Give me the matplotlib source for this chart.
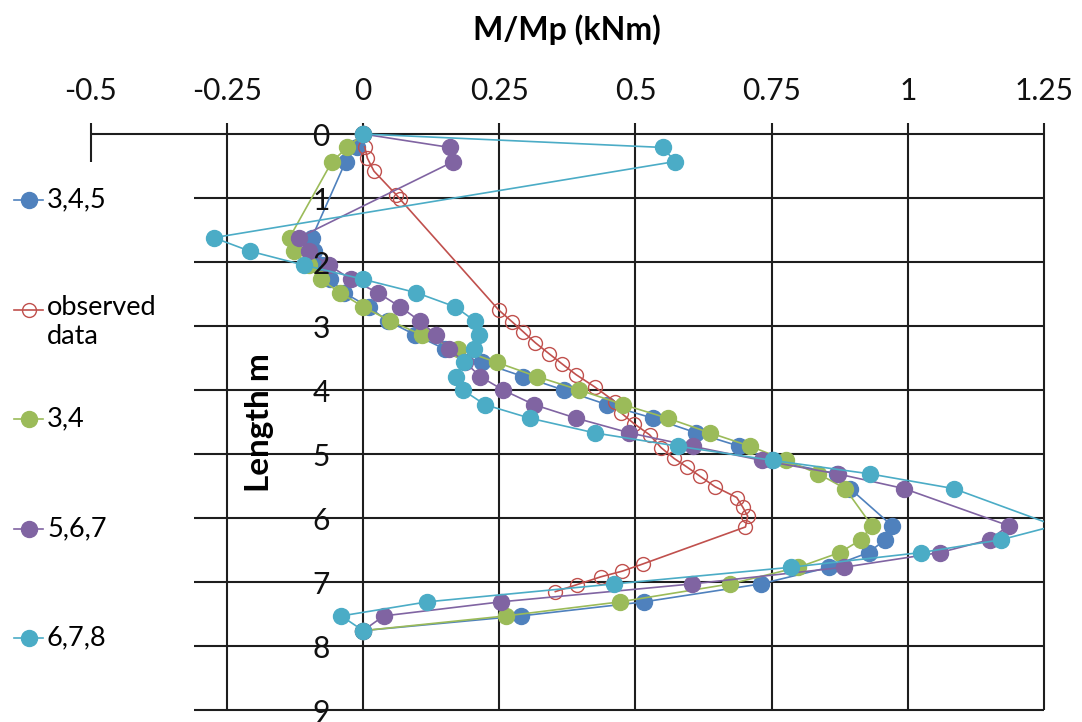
import matplotlib.pyplot as plt
from matplotlib.lines import Line2D
from matplotlib.transforms import Bbox, TransformedBbox

plt.rcParams['font.family'] = ['Lato', 'DejaVu Sans']

# depth along the member (m), shared by the model series
depth = [0, 0.21, 0.43, 1.62, 1.83, 2.05, 2.27, 2.48, 2.70, 2.92, 3.14, 3.36,
         3.57, 3.79, 4.00, 4.23, 4.44, 4.67, 4.88, 5.10, 5.31, 5.54, 6.12, 6.34,
         6.54, 6.77, 7.03, 7.31, 7.53, 7.76]

m_345 = [0, -0.012, -0.032, -0.094, -0.09, -0.075, -0.06, -0.035, 0.01, 0.045,
         0.096, 0.15, 0.218, 0.294, 0.368, 0.448, 0.532, 0.612, 0.691, 0.75,
         0.87, 0.894, 0.971, 0.958, 0.928, 0.856, 0.730, 0.516, 0.290, 0.0]
m_34 = [0, -0.029, -0.057, -0.135, -0.127, -0.10, -0.078, -0.042, 0.0, 0.05,
        0.108, 0.175, 0.246, 0.319, 0.397, 0.478, 0.559, 0.637, 0.711, 0.777,
        0.836, 0.885, 0.934, 0.914, 0.875, 0.799, 0.674, 0.472, 0.262, 0.0]
m_567 = [0, 0.159, 0.166, -0.118, -0.10, -0.063, -0.022, 0.027, 0.068, 0.104,
         0.134, 0.157, 0.188, 0.215, 0.257, 0.314, 0.391, 0.489, 0.605, 0.732,
         0.871, 0.993, 1.185, 1.150, 1.059, 0.882, 0.604, 0.253, 0.038, 0.0]
m_678 = [0, 0.55, 0.573, -0.274, -0.208, -0.108, 0.0, 0.098, 0.169, 0.205,
         0.212, 0.204, 0.185, 0.171, 0.183, 0.224, 0.306, 0.425, 0.579, 0.752,
         0.930, 1.084, 1.27, 1.171, 1.024, 0.785, 0.461, 0.118, -0.040, 0.0]

obs_depth = [0.2, 0.38, 0.58, 0.95, 1.02, 2.75, 2.93, 3.09, 3.26, 3.43, 3.59,
             3.76, 3.95, 4.18, 4.36, 4.53, 4.70, 4.90, 5.07, 5.20, 5.35, 5.51,
             5.68, 5.83, 5.97, 6.14, 6.72, 6.83, 6.92, 7.04, 7.15]
obs_m = [0.003, 0.008, 0.02, 0.061, 0.068, 0.249, 0.273, 0.294, 0.316, 0.341,
         0.365, 0.391, 0.425, 0.462, 0.474, 0.498, 0.526, 0.547, 0.571, 0.594,
         0.619, 0.646, 0.686, 0.697, 0.706, 0.702, 0.513, 0.476, 0.436, 0.393,
         0.353]

x_ticks = [-0.5, -0.25, 0, 0.25, 0.5, 0.75, 1, 1.25]
x_labels = ['-0.5', '-0.25', '0', '0.25', '0.5', '0.75', '1', '1.25']
y_ticks = list(range(10))

blue, red, green, purple, cyan = '#4F81BD', '#C0504D', '#9BBB59', '#8064A2', '#4BACC6'
grid_c = '#1e1e1e'

W, H = 1082, 722
fig = plt.figure(figsize=(W / 100, H / 100), dpi=100)
ax = fig.add_axes([90.7 / W, 12 / H, 953.3 / W, 576 / H])
ax.set_xlim(-0.5, 1.25)
ax.set_ylim(9, 0)
for s in ax.spines.values():
    s.set_visible(False)
ax.spines['left'].set_position(('data', 0))
ax.set_axisbelow(False)

ax.xaxis.tick_top()
ax.set_xticks(x_ticks, x_labels)
ax.set_yticks(y_ticks)
ax.tick_params(length=0, labelsize=21.5, colors='#111111')
ax.tick_params(axis='x', pad=21)
ax.tick_params(axis='y', pad=24)

# grid (Excel style: horizontal lines stop short on the left)
ax.hlines(y_ticks[1:], -0.311, 1.25, color=grid_c, lw=1.5, zorder=1, clip_on=False)
ax.hlines(0, -0.5, 1.25, color=grid_c, lw=1.5, zorder=1, clip_on=False)
ax.vlines(x_ticks[1:], -0.17, 9, color=grid_c, lw=1.5, zorder=1, clip_on=False)
ax.vlines(-0.5, -0.17, 0.44, color=grid_c, lw=1.5, zorder=1, clip_on=False)

clip = TransformedBbox(Bbox([[0, 0], [1, 1.06]]), ax.transAxes)

def add(line):
    line.set_clip_path(None)
    line.set_clip_box(clip)

ms = 11.5
add(ax.plot(m_345, depth, '-o', color=blue, ms=ms, lw=1.2, zorder=2)[0])
add(ax.plot(obs_m, obs_depth, '-o', color=red, mfc='none', mec=red, ms=10,
            mew=1.0, lw=1.2, zorder=2)[0])
add(ax.plot(m_34, depth, '-o', color=green, ms=ms, lw=1.2, zorder=2)[0])
add(ax.plot(m_567, depth, '-o', color=purple, ms=ms, lw=1.2, zorder=2)[0])
add(ax.plot(m_678, depth, '-o', color=cyan, ms=ms, lw=1.2, zorder=2)[0])

# axis titles
fig.text(567 / W, 1 - 40 / H, 'M/Mp (kNm)', ha='center', va='baseline',
         fontsize=23, fontweight='bold')
fig.text(259 / W, 1 - 423 / H, 'Length m', ha='center', va='center',
         rotation=90, fontsize=24, fontweight='bold')

# legend on the left
entries = [('3,4,5', blue, True, 200), ('observed\ndata', red, False, 310),
           ('3,4', green, True, 419), ('5,6,7', purple, True, 528.5),
           ('6,7,8', cyan, True, 638)]
for label, c, filled, py in entries:
    yf = 1 - py / H
    fig.add_artist(Line2D([14 / W, 43 / W], [yf, yf], color=c, lw=1.2,
                          transform=fig.transFigure))
    fig.add_artist(Line2D([29 / W], [yf], marker='o', ms=ms if filled else 10,
                          color=c, mfc=c if filled else 'none', mew=1.0,
                          transform=fig.transFigure))
    if '\n' in label:
        fig.text(47 / W, 1 - (py - 15) / H, label, ha='left', va='top',
                 fontsize=19.5, linespacing=1.2)
    else:
        fig.text(47 / W, yf, label, ha='left', va='center', fontsize=19.5)

fig.savefig('out.png', dpi=100)
